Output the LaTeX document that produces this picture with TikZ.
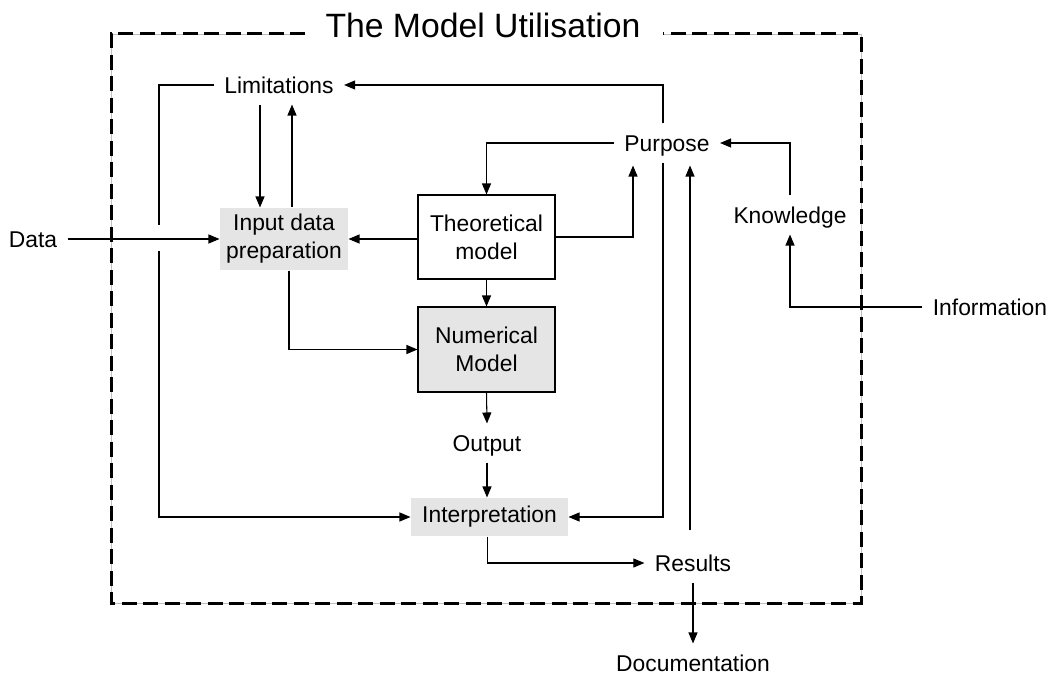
\documentclass[tikz,border=0pt]{standalone}
\usepackage{fontspec}
\setmainfont{Liberation Sans}
\usetikzlibrary{arrows.meta,calc}

\begin{document}
\begin{tikzpicture}[x=0.02cm,y=-0.02cm,>={Triangle[length=0.22cm,width=0.18cm]},
  line width=0.6pt,
  plain node/.style={font=\fontsize{13}{16}\selectfont,text height=9.3pt,text depth=0pt,
    inner xsep=0.2cm,inner ysep=0pt,minimum height=0.76cm},
  box node/.style={font=\fontsize{13}{16}\selectfont,align=center,inner sep=0pt},
  gray box/.style={box node,fill=black!10},
  frame line/.style={line width=0.06cm,dash pattern=on 0.3cm off 0.13cm}]

  \useasboundingbox (0,0) rectangle (1051,675);

  % the frame and its title
  \node[font=\fontsize{19.2}{23}\selectfont,inner sep=0pt] (title) at (483,25) {The Model Utilisation};
  \draw[black!25,line width=0.5pt] (305,34) -| (111,603) -| (861,34) -- (663,34);
  \draw[frame line] (305,34) -| (111,603) -| (861,34) -- (663,34);

  \node[plain node] (lim) at (279,85) {Limitations};
  \node[plain node] (purp) at (667,143) {Purpose};
  \node[plain node] (know) at (790,215) {Knowledge};
  \node[plain node] (data) at (33,239) {Data};
  \node[plain node] (info) at (990,307) {Information};
  \node[plain node] (out) at (487,443) {Output};
  \node[plain node] (res) at (693,563) {Results};
  \node[plain node] (doc) at (693,663) {Documentation};

  \node[gray box,minimum width=2.56cm,minimum height=1.24cm] (inp) at (284,239) {Input data\\preparation};
  \node[box node,draw,minimum width=2.74cm,minimum height=1.68cm] (theo) at (486.5,237) {Theoretical\\model};
  \node[gray box,draw,minimum width=2.74cm,minimum height=1.70cm] (num) at (486.5,349.5) {Numerical\\Model};
  \node[gray box,minimum width=3.14cm,minimum height=0.76cm] (interp) at (489.5,517) {Interpretation};

  \coordinate (gapA) at (159,225);
  \coordinate (gapB) at (159,251);

  \draw[->] ($(purp.north)+(-4,0)$) |- (lim.east);
  \draw (lim.west) -| (gapA);
  \draw[->] (gapB) |- (interp.west);
  \draw[->] ($(lim.south)+(-19,0)$) -- ($(inp.north)+(-24,0)$);
  \draw[->] ($(inp.north)+(8,0)$) -- ($(lim.south)+(13,0)$);
  \draw[->] (data.east) -- (inp.west);
  \draw[->] (theo.west |- inp.east) -- (inp.east);
  \draw[->] (purp.west) -| (theo.north);
  \draw[->] (theo.east) -| ($(purp.south)+(-34,3)$);
  \draw[->] (know.north) |- (purp.east);
  \draw[->] (info.west) -| (know.south);
  \draw[->] (theo.south) -- (num.north);
  \draw[->] ($(inp.south)+(5,0)$) |- (num.west);
  \draw[->] (num.south) -- (out.north);
  \draw[->] (out.south) -- (out.south |- interp.north);
  \draw[->] ($(purp.south)+(-4,0)$) |- (interp.east);
  \draw[->] ($(interp.south)+(-2,0)$) |- (res.west);
  \draw[->] ($(res.north)+(-3,-13)$) -- ($(purp.south)+(23,3)$);
  \draw[->] (res.south) -- (doc.north);
\end{tikzpicture}
\end{document}
